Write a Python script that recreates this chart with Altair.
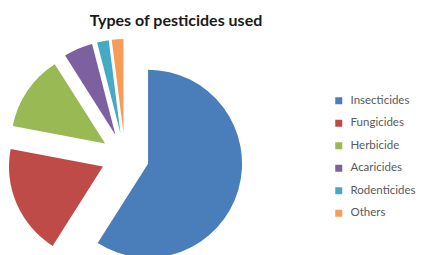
import altair as alt
import pandas as pd

categories = ["Insecticides", "Fungicides", "Herbicide", "Acaricides", "Rodenticides", "Others"]
shares = [59, 19, 13, 5, 2, 2]
colors = ["#4A7EBB", "#BE4B48", "#98B954", "#7D60A0", "#46AAC5", "#F59D56"]
title_text = "Types of pesticides used"

df = pd.DataFrame({"type": categories, "share": shares, "idx": list(range(len(categories)))})

explode = 24

base = (
    alt.Chart(df)
    .transform_joinaggregate(total="sum(share)")
    .transform_window(cum="sum(share)", sort=[alt.SortField("idx")], frame=[None, 0])
    .transform_calculate(mid="2*PI*(datum.cum - datum.share/2)/datum.total")
)

pie = base.mark_arc(
    outerRadius=94,
    xOffset=alt.expr(f"{explode}*sin(datum.mid)"),
    yOffset=alt.expr(f"-{explode}*cos(datum.mid)"),
).encode(
    theta=alt.Theta("share:Q", stack=True),
    order=alt.Order("idx:Q"),
    color=alt.Color(
        "type:N",
        scale=alt.Scale(domain=categories, range=colors),
        legend=alt.Legend(
            title=None,
            orient="none",
            legendX=325,
            legendY=87,
            symbolType="square",
            symbolSize=49,
            symbolStrokeWidth=0,
            labelFontSize=11.5,
            labelFont="Lato",
            labelColor="#595959",
            rowPadding=9.5,
            padding=0,
            labelOffset=6,
        ),
    ),
    x=alt.value(117),
    y=alt.value(149),
)

title = alt.Chart(pd.DataFrame({"t": [title_text]})).mark_text(
    font="Lato", fontWeight="bold", fontSize=16, color="#1a1a1a", baseline="middle"
).encode(text="t:N", x=alt.value(168), y=alt.value(13))

chart = (
    alt.layer(pie, title)
    .properties(width=408, height=247, autosize=alt.AutoSizeParams(type="none"), padding=0)
    .configure_view(stroke=None)
)

chart.save("out.html", embed_options={"renderer": "svg", "actions": False})
